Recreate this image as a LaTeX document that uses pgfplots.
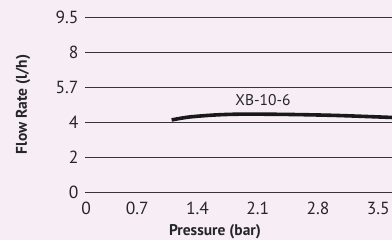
\documentclass[border=0pt]{standalone}
\usepackage{pgfplots}
\pgfplotsset{compat=1.18}
\usepackage{fontspec}
\setmainfont{PT Sans}
\definecolor{bg}{RGB}{247,238,245}
\definecolor{gridc}{RGB}{55,52,55}
\begin{document}
\begin{tikzpicture}[x=1pt,y=1pt]
\fill[bg] (0,0) rectangle (392,240);
\useasboundingbox (0,0) rectangle (392,240);
\begin{axis}[
  at={(85pt,48pt)}, anchor=south west,
  scale only axis, width=307pt, height=175pt,
  xmin=0.093, xmax=3.66,
  ymin=0, ymax=9.5,
  y coord trafo/.code={\pgfmathparse{(#1<=4) ? (#1/2) : ((#1<=5.7) ? (2+(#1-4)/1.7) : ((#1<=8) ? (3+(#1-5.7)/2.3) : (4+(#1-8)/1.5)))}},
  axis line style={draw=none},
  major tick length=0pt,
  ymajorgrids,
  grid style={gridc, line width=0.8pt},
  xtick={0.105,0.7,1.4,2.1,2.8,3.5},
  xticklabels={0,0.7,1.4,2.1,2.8,3.5},
  ytick={0,2,4,5.7,8,9.5},
  yticklabels={0,2,4,5.7,8,9.5},
  tick label style={font=\fontsize{17.5}{17.5}\selectfont, text=black!85},
  yticklabel style={xshift=-3pt},
  xticklabel style={yshift=-7pt},
  every axis x label/.style={at={(axis description cs:0,0)}, anchor=center, xshift=130pt, yshift=-40pt},
  every axis y label/.style={at={([xshift=-62pt]axis description cs:0,0.5)}, anchor=center, rotate=90},
  label style={font=\bfseries\fontsize{15.5}{15.5}\selectfont, text=black!85},
  xlabel={Pressure (bar)},
  ylabel={Flow Rate (l/h)},
  clip=false,
]
\addplot[black!90, line width=3.6pt, smooth, line cap=butt] coordinates {
  (1.10,4.10) (1.30,4.24) (1.60,4.34) (1.90,4.38) (2.40,4.37) (3.00,4.32) (3.66,4.22)
};
\node[font=\fontsize{15.5}{15.5}\selectfont, text=black!85] at (rel axis cs:0.58,0.526) {XB-10-6};
\end{axis}
\end{tikzpicture}
\end{document}
